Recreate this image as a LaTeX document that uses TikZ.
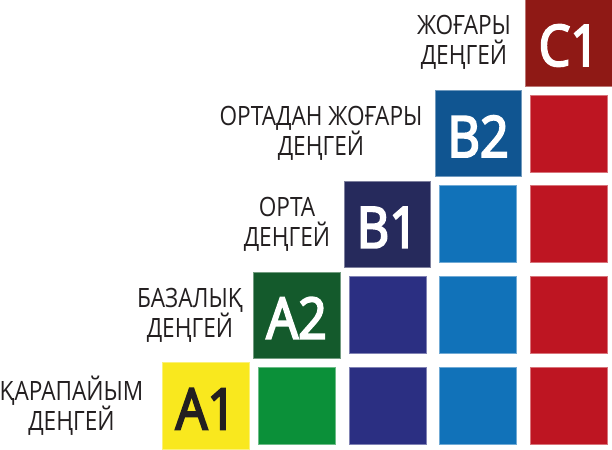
\documentclass[tikz,border=0pt]{standalone}
\usepackage{fontspec}
\setmainfont{Open Sans}[FakeStretch=0.85]
\newfontfamily\levelfont{Open Sans}[FakeStretch=0.88, FakeBold=3.5]
\usepackage{tikz}
\definecolor{myyellow}{HTML}{F9E81E}
\definecolor{mydarkgreen}{HTML}{145A2C}
\definecolor{mygreen}{HTML}{0B9039}
\definecolor{mynavy}{HTML}{262A5C}
\definecolor{myindigo}{HTML}{2B2F82}
\definecolor{mydarkblue}{HTML}{105591}
\definecolor{myblue}{HTML}{1172B9}
\definecolor{mydarkred}{HTML}{8F1915}
\definecolor{myred}{HTML}{BE1522}
\definecolor{mytext}{HTML}{231F20}
\tikzset{
  levelbox/.style={fill=#1, draw=#1!60!white, line width=0.5pt, minimum size=86.3pt,
    inner sep=0pt, text height=47pt, text=white, font=\levelfont\fontsize{57}{60}\selectfont},
  cellbox/.style={fill=#1, draw=#1!60!white, line width=0.5pt, minimum size=77pt, inner sep=0pt},
  levelname/.style={align=center, text=mytext, inner sep=0pt, font=\fontsize{26.6}{30.3}\selectfont}
}

\begin{document}
\begin{tikzpicture}[x=1pt,y=1pt]
        \useasboundingbox (0,0) rectangle (612,449);

        % Levels
        \node[levelbox=myyellow, text=mytext] (a1) at (205.85,43.15) {A1};
        \node[levelbox=mydarkgreen] (a2) at (296.6,133.95) {A2};
        \node[levelbox=mynavy] (b1) at (387.35,224.75) {B1};
        \node[levelbox=mydarkblue] (b2) at (478.1,315.55) {B2};
        \node[levelbox=mydarkred] (c1) at (568.85,406.35) {C1};

        % Cells of the A1 row
        \node[cellbox=mygreen] (a1-2) at (296.6,43.15) {};
        \node[cellbox=myindigo] (a1-3) at (387.35,43.15) {};
        \node[cellbox=myblue] (a1-4) at (478.1,43.15) {};
        \node[cellbox=myred] (a1-5) at (568.85,43.15) {};

        % Cells of the A2 row
        \node[cellbox=myindigo] (a2-3) at (387.35,133.95) {};
        \node[cellbox=myblue] (a2-4) at (478.1,133.95) {};
        \node[cellbox=myred] (a2-5) at (568.85,133.95) {};

        % Cells of the B1 row
        \node[cellbox=myblue] (b1-4) at (478.1,224.75) {};
        \node[cellbox=myred] (b1-5) at (568.85,224.75) {};

        % Cells of the B2 row
        \node[cellbox=myred] (b2-5) at (568.85,315.55) {};

        % Names of the levels
        \node[levelname] (a1name) at (71.5,43.15) {ҚАРАПАЙЫМ\\ДЕҢГЕЙ};
        \node[levelname] (a2name) at (190,133.95) {БАЗАЛЫҚ\\ДЕҢГЕЙ};
        \node[levelname] (b1name) at (287,224.75) {ОРТА\\ДЕҢГЕЙ};
        \node[levelname] (b2name) at (321,315.55) {ОРТАДАН ЖОҒАРЫ\\ДЕҢГЕЙ};
        \node[levelname] (c1name) at (464,406.35) {ЖОҒАРЫ\\ДЕҢГЕЙ};

\end{tikzpicture}
\end{document}
